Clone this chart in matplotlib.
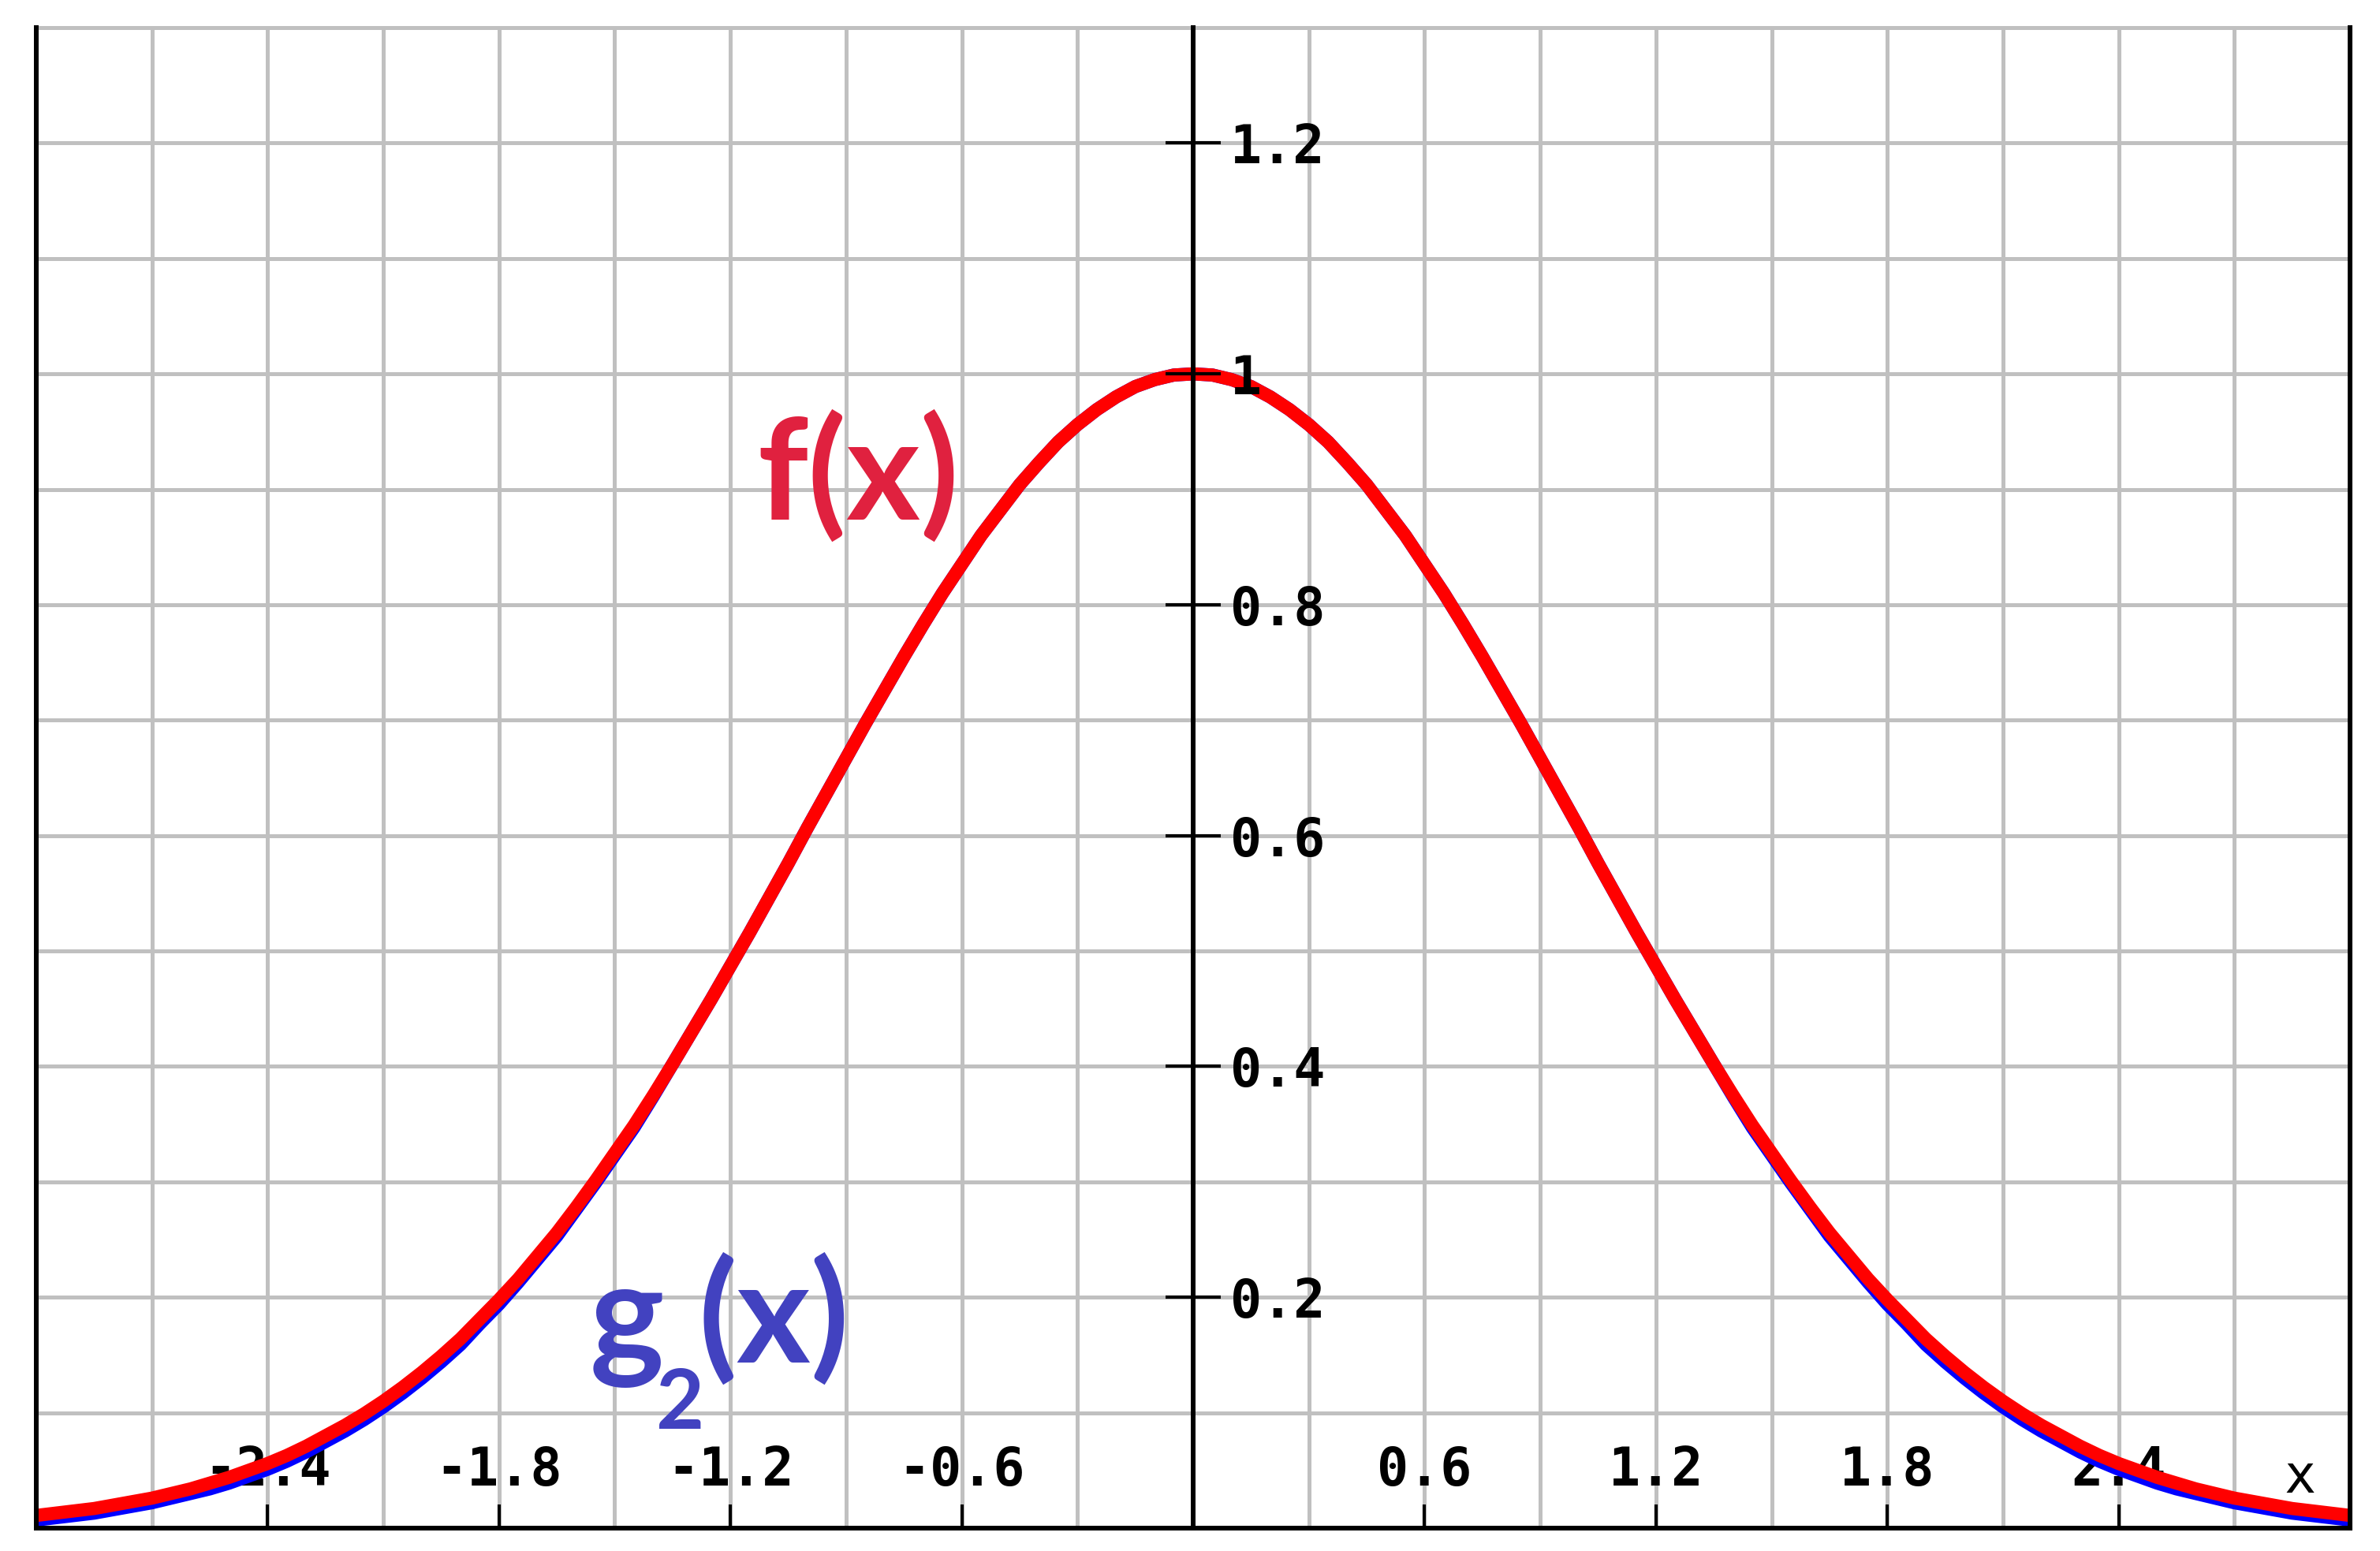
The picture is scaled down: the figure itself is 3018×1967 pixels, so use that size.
import matplotlib
matplotlib.use("Agg")
import matplotlib.pyplot as plt
from matplotlib.ticker import MultipleLocator, NullLocator

# ---- data ----
x_vals = [-3.00, -2.95, -2.90, -2.85, -2.80, -2.75, -2.70, -2.65, -2.60, -2.55,
          -2.50, -2.45, -2.40, -2.35, -2.30, -2.25, -2.20, -2.15, -2.10, -2.05,
          -2.00, -1.95, -1.90, -1.85, -1.80, -1.75, -1.70, -1.65, -1.60, -1.55,
          -1.50, -1.45, -1.40, -1.35, -1.30, -1.25, -1.20, -1.15, -1.10, -1.05,
          -1.00, -0.95, -0.90, -0.85, -0.80, -0.75, -0.70, -0.65, -0.60, -0.55,
          -0.50, -0.45, -0.40, -0.35, -0.30, -0.25, -0.20, -0.15, -0.10, -0.05,
          0.00,
          0.05, 0.10, 0.15, 0.20, 0.25, 0.30, 0.35, 0.40, 0.45, 0.50,
          0.55, 0.60, 0.65, 0.70, 0.75, 0.80, 0.85, 0.90, 0.95, 1.00,
          1.05, 1.10, 1.15, 1.20, 1.25, 1.30, 1.35, 1.40, 1.45, 1.50,
          1.55, 1.60, 1.65, 1.70, 1.75, 1.80, 1.85, 1.90, 1.95, 2.00,
          2.05, 2.10, 2.15, 2.20, 2.25, 2.30, 2.35, 2.40, 2.45, 2.50,
          2.55, 2.60, 2.65, 2.70, 2.75, 2.80, 2.85, 2.90, 2.95, 3.00]

f_vals = [0.011, 0.013, 0.015, 0.017, 0.020, 0.023, 0.026, 0.030, 0.034, 0.039,
          0.044, 0.050, 0.056, 0.063, 0.071, 0.080, 0.089, 0.099, 0.110, 0.122,
          0.135, 0.149, 0.164, 0.181, 0.198, 0.216, 0.236, 0.256, 0.278, 0.301,
          0.325, 0.349, 0.375, 0.402, 0.430, 0.458, 0.487, 0.516, 0.546, 0.576,
          0.607, 0.637, 0.667, 0.697, 0.726, 0.755, 0.783, 0.810, 0.835, 0.860,
          0.882, 0.904, 0.923, 0.941, 0.956, 0.969, 0.980, 0.989, 0.995, 0.999,
          1.000,
          0.999, 0.995, 0.989, 0.980, 0.969, 0.956, 0.941, 0.923, 0.904, 0.882,
          0.860, 0.835, 0.810, 0.783, 0.755, 0.726, 0.697, 0.667, 0.637, 0.607,
          0.576, 0.546, 0.516, 0.487, 0.458, 0.430, 0.402, 0.375, 0.349, 0.325,
          0.301, 0.278, 0.256, 0.236, 0.216, 0.198, 0.181, 0.164, 0.149, 0.135,
          0.122, 0.110, 0.099, 0.089, 0.080, 0.071, 0.063, 0.056, 0.050, 0.044,
          0.039, 0.034, 0.030, 0.026, 0.023, 0.020, 0.017, 0.015, 0.013, 0.011]

g2_vals = [0.007, 0.009, 0.011, 0.013, 0.016, 0.019, 0.022, 0.026, 0.030, 0.034,
           0.039, 0.045, 0.051, 0.058, 0.066, 0.075, 0.084, 0.094, 0.105, 0.117,
           0.130, 0.144, 0.159, 0.177, 0.194, 0.213, 0.233, 0.253, 0.276, 0.299,
           0.323, 0.347, 0.374, 0.402, 0.430, 0.458, 0.487, 0.516, 0.546, 0.576,
           0.607, 0.637, 0.667, 0.697, 0.726, 0.755, 0.783, 0.810, 0.835, 0.860,
           0.882, 0.904, 0.923, 0.941, 0.956, 0.969, 0.980, 0.989, 0.995, 0.999,
           1.000,
           0.999, 0.995, 0.989, 0.980, 0.969, 0.956, 0.941, 0.923, 0.904, 0.882,
           0.860, 0.835, 0.810, 0.783, 0.755, 0.726, 0.697, 0.667, 0.637, 0.607,
           0.576, 0.546, 0.516, 0.487, 0.458, 0.430, 0.402, 0.374, 0.347, 0.323,
           0.299, 0.276, 0.253, 0.233, 0.213, 0.194, 0.177, 0.159, 0.144, 0.130,
           0.117, 0.105, 0.094, 0.084, 0.075, 0.066, 0.058, 0.051, 0.045, 0.039,
           0.034, 0.030, 0.026, 0.022, 0.019, 0.016, 0.013, 0.011, 0.009, 0.007]

xtick_vals = [-2.4, -1.8, -1.2, -0.6, 0.6, 1.2, 1.8, 2.4]
xtick_labels = ["-2.4", "-1.8", "-1.2", "-0.6", "0.6", "1.2", "1.8", "2.4"]
ytick_vals = [0.2, 0.4, 0.6, 0.8, 1.0, 1.2]
ytick_labels = ["0.2", "0.4", "0.6", "0.8", "1", "1.2"]

# ---- figure ----
fig = plt.figure(figsize=(30.18, 19.67), dpi=100)
ax = fig.add_axes([0.01524, 0.01474, 0.98741 - 0.01524, 0.98221 - 0.01474])
ax.set_xlim(-3.0, 3.0)
ax.set_ylim(0.0, 1.3)

grid_color = "#C0C0C0"
for side in ["left", "right", "bottom"]:
    ax.spines[side].set_linewidth(4.3)
    ax.spines[side].set_color("black")
    ax.spines[side].set_zorder(4)
ax.spines["top"].set_color(grid_color)
ax.spines["top"].set_linewidth(3.6)

# grid
ax.xaxis.set_minor_locator(MultipleLocator(0.3))
ax.yaxis.set_major_locator(NullLocator())
ax.yaxis.set_minor_locator(MultipleLocator(0.1))
ax.grid(True, which="both", axis="x", color=grid_color, linewidth=3.6, zorder=0)
ax.grid(True, which="minor", axis="y", color=grid_color, linewidth=3.6, zorder=0)
ax.set_axisbelow(True)

# x ticks (inside, labels above the ticks)
ax.set_xticks(xtick_vals, labels=xtick_labels)
ax.tick_params(axis="x", which="major", direction="in", length=21.6, width=3.0,
               pad=-76, labelsize=48, colors="black")
ax.tick_params(axis="x", which="minor", length=0)
ax.tick_params(axis="y", which="both", length=0, labelleft=False)
for lab in ax.get_xticklabels():
    lab.set_fontfamily("DejaVu Sans Mono")
    lab.set_fontweight("bold")

# curves
ax.plot(x_vals, g2_vals, color="#0000FF", linewidth=12.0, solid_capstyle="butt", zorder=2)
ax.plot(x_vals, f_vals, color="#FF0000", linewidth=12.0, solid_capstyle="butt", zorder=2.5)

# y axis at x = 0
sec = ax.secondary_yaxis(0.5)
sec.set_zorder(3)
sec.set_yticks(ytick_vals, labels=ytick_labels)
sec.tick_params(axis="y", direction="inout", length=51, width=3.0, pad=8,
                labelsize=48, colors="black")
for s in ["left", "right"]:
    sec.spines[s].set_linewidth(4.3)
    sec.spines[s].set_color("black")
for lab in sec.get_yticklabels():
    lab.set_fontfamily("DejaVu Sans Mono")
    lab.set_fontweight("bold")

# axis name
ax.text(2.87, 0.044, "x", fontsize=48, family="DejaVu Sans Mono",
        ha="center", va="center", color="black", zorder=5)

# curve labels
ax.text(-1.131, 0.874, "f(x)", fontsize=129, family="Lato", fontweight="bold",
        color="#E0213F", ha="left", va="baseline", zorder=5)
g_col = "#4242C0"
ax.text(-1.566, 0.1434, "g", fontsize=129, family="Lato", fontweight="bold",
        color=g_col, ha="left", va="baseline", zorder=5)
ax.text(-1.393, 0.0861, "2", fontsize=76, family="Lato", fontweight="bold",
        color=g_col, ha="left", va="baseline", zorder=5)
ax.text(-1.284, 0.1434, "(x)", fontsize=129, family="Lato", fontweight="bold",
        color=g_col, ha="left", va="baseline", zorder=5)

fig.savefig("out.png", dpi=100, facecolor="white")
